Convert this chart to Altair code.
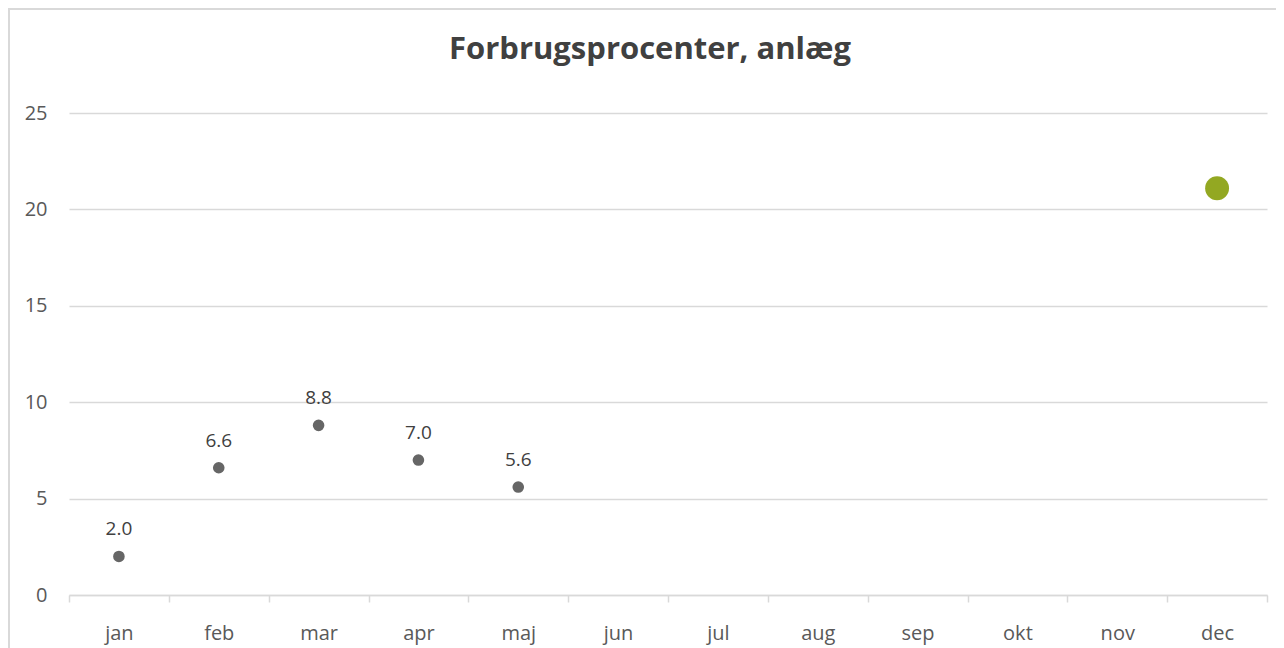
import altair as alt
import pandas as pd

months = ["jan", "feb", "mar", "apr", "maj", "jun", "jul", "aug", "sep", "okt", "nov", "dec"]
monthly_values = [2.0, 6.6, 8.8, 7.0, 5.6, None, None, None, None, None, None, None]
total_month = ["dec"]
total_value = [21.1]
y_ticks = [0, 5, 10, 15, 20, 25]
title_text = "Forbrugsprocenter, anlæg"

df = pd.DataFrame({"month": months, "value": monthly_values}).dropna()
df["label"] = df["value"].map(lambda v: f"{v:.1f}")
df_total = pd.DataFrame({"month": total_month, "value": total_value})

FONT = "Open Sans"
GRID = "#d9d9d9"

x_enc = alt.X(
    "month:N",
    sort=months,
    scale=alt.Scale(domain=months, paddingInner=0, paddingOuter=0),
    axis=alt.Axis(
        title=None,
        labelAngle=0,
        labelFont=FONT,
        labelFontSize=20,
        labelColor="#595959",
        labelPadding=21,
        domainColor=GRID,
        domainWidth=1.5,
        tickColor=GRID,
        tickWidth=1.5,
        tickSize=7,
        tickBand="extent",
        grid=False,
    ),
)
y_enc = alt.Y(
    "value:Q",
    scale=alt.Scale(domain=[0, 25], nice=False),
    axis=alt.Axis(
        title=None,
        values=y_ticks,
        labelFont=FONT,
        labelFontSize=20,
        labelColor="#595959",
        labelPadding=22,
        domain=False,
        ticks=False,
        grid=True,
        gridColor=GRID,
        gridWidth=1.5,
    ),
)

frame = alt.Chart(pd.DataFrame({"a": [0]})).mark_rect(
    fill=None, stroke=GRID, strokeWidth=2
).encode(
    x=alt.value(-60), x2=alt.value(1240), y=alt.value(-104), y2=alt.value(580)
)

title = alt.Chart(pd.DataFrame({"t": [title_text]})).mark_text(
    font=FONT, fontSize=31, fontWeight="bold", color="#404040",
    align="center", baseline="middle"
).encode(x=alt.value(581), y=alt.value(-63), text="t:N")

base = alt.Chart(df)
points = base.mark_point(filled=True, size=135, color="#666666", opacity=1).encode(x=x_enc, y=y_enc)
labels = base.mark_text(
    font=FONT, fontSize=19, color="#404040", dy=-27, baseline="middle"
).encode(x=alt.X("month:N", sort=months), y="value:Q", text="label:N")
total = alt.Chart(df_total).mark_point(
    filled=True, size=570, color="#93A822", opacity=1
).encode(x=alt.X("month:N", sort=months), y="value:Q")

chart = (
    alt.layer(frame, title, points, labels, total)
    .properties(
        width=1198,
        height=482,
        background="white",
        autosize=alt.AutoSizeParams(type="none"),
        padding={"left": 61, "top": 105, "right": 9, "bottom": 60},
    )
    .configure_view(strokeWidth=0, stroke="transparent")
)

chart.save("out.html", embed_options={"renderer": "svg", "actions": False})
